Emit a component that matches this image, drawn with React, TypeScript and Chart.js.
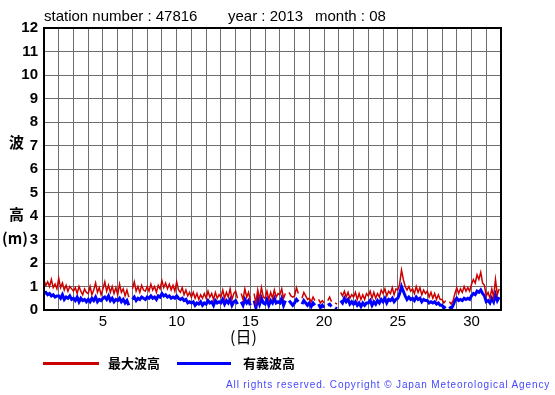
import React, { useEffect, useRef } from "react";
import { Chart, registerables } from "chart.js";

Chart.register(...registerables);

const stationNumber = "47816";
const yearLabel = "2013";
const monthLabel = "08";
const samplesPerDay = 8;
const yTicks = [0, 1, 2, 3, 4, 5, 6, 7, 8, 9, 10, 11, 12];
const xLabelDays = [5, 10, 15, 20, 25, 30];

// maximum wave height (m), 3-hourly, days 1..31
const maxWave: (number | null)[] = [
  1.25, 1.05, 1.2, 1.0, 1.3, 0.95, 1.1, 0.9,
  1.35, 0.95, 1.15, 0.85, 1.05, 0.8, 1.0, 0.9,
  0.8, 0.95, 0.7, 1.0, 0.8, 0.65, 0.9, 0.75,
  0.7, 1.0, 0.65, 0.85, 1.15, 0.75, 0.95, 0.65,
  0.9, 1.2, 0.8, 1.05, 0.75, 1.0, 0.7, 0.95,
  0.65, 1.1, 0.75, 0.9, 0.6, 0.85, 0.55, null,
  0.9, 1.2, 0.8, 1.0, 0.75, 1.05, 0.85, 0.8,
  1.0, 0.8, 1.1, 0.85, 1.0, 0.75, 1.05, 0.9,
  1.25, 0.95, 1.15, 0.9, 1.1, 0.85, 1.05, 0.8,
  1.2, 0.85, 0.75, 0.95, 0.65, 0.85, 0.6, 0.75,
  0.55, 0.75, 0.5, 0.7, 0.45, 0.65, 0.5, 0.7,
  0.5, 0.8, 0.55, 0.7, 0.45, 0.75, 0.5, 0.65,
  0.55, 0.85, 0.5, 0.75, 0.55, 0.9, 0.45, 0.7,
  0.8, 0.5, null, 0.7, 0.45, 0.9, 0.55, 0.75,
  0.4, null, 0.7, 0.3, 0.85, 0.45, 0.95, 0.55,
  0.5, 0.8, 0.45, 0.75, 0.5, 0.85, 0.55, 0.7,
  0.65, 0.9, 0.5, 0.7, null, 0.75, 0.6, 0.55,
  0.6, 0.95, 0.7, null, 0.5, 0.75, 0.6, 0.45,
  0.5, 0.35, 0.55, 0.4, null, 0.45, 0.3, 0.4,
  0.3, null, 0.4, 0.55, 0.35, null, 0.3, 0.25,
  null, 0.75, 0.6, 0.8, 0.55, 0.75, 0.5, 0.65,
  0.55, 0.75, 0.45, 0.7, 0.45, 0.65, 0.45, 0.7,
  0.6, 0.8, 0.5, 0.75, 0.5, 0.7, 0.55, 0.85,
  0.7, 0.9, 0.6, 0.8, 0.7, 0.95, 0.65, 0.9,
  0.85, 1.1, 1.7, 1.3, 1.0, 0.85, 1.0, 0.8,
  0.9, 0.7, 1.0, 0.75, 0.95, 0.65, 0.85, 0.7,
  0.8, 0.55, 0.75, 0.5, 0.7, 0.45, 0.65, 0.45,
  0.45, 0.3, 0.4, null, 0.35, 0.25, 0.4, 0.7,
  0.95, 0.7, 0.9, 0.75, 1.0, 0.8, 0.95, 0.8,
  1.1, 1.3, 1.15, 1.5, 1.3, 1.6, 1.15, 1.05,
  0.6, 0.75, 0.5, 0.9, 0.55, 1.3, 0.65, 0.9,
];

// significant wave height (m), 3-hourly, days 1..31
const sigWave: (number | null)[] = [
  0.7, 0.75, 0.65, 0.7, 0.6, 0.65, 0.55, 0.6,
  0.6, 0.5, 0.65, 0.45, 0.55, 0.5, 0.6, 0.45,
  0.5, 0.4, 0.55, 0.35, 0.5, 0.4, 0.45, 0.35,
  0.45, 0.35, 0.5, 0.4, 0.55, 0.35, 0.45, 0.4,
  0.5, 0.55, 0.45, 0.6, 0.4, 0.5, 0.35, 0.45,
  0.4, 0.5, 0.35, 0.45, 0.3, 0.4, 0.2, null,
  0.45, 0.55, 0.4, 0.5, 0.45, 0.55, 0.5, 0.45,
  0.55, 0.5, 0.6, 0.5, 0.55, 0.45, 0.6, 0.55,
  0.7, 0.6, 0.65, 0.55, 0.6, 0.5, 0.55, 0.5,
  0.6, 0.5, 0.45, 0.5, 0.4, 0.45, 0.3, 0.35,
  0.3, 0.35, 0.2, 0.3, 0.25, 0.35, 0.2, 0.3,
  0.25, 0.4, 0.3, 0.35, 0.2, 0.4, 0.3, 0.35,
  0.3, 0.45, 0.25, 0.4, 0.3, 0.45, 0.2, 0.35,
  0.4, 0.25, null, 0.35, 0.2, 0.45, 0.3, 0.4,
  0.2, null, 0.4, 0.1, 0.5, 0.25, 0.5, 0.3,
  0.25, 0.45, 0.2, 0.4, 0.3, 0.5, 0.3, 0.35,
  0.3, 0.5, 0.2, 0.4, null, 0.4, 0.3, 0.2,
  0.3, 0.45, 0.35, null, 0.25, 0.4, 0.3, 0.2,
  0.3, 0.15, 0.3, 0.2, null, 0.25, 0.1, 0.2,
  0.1, null, 0.2, 0.25, 0.15, null, 0.1, 0.05,
  null, 0.4, 0.3, 0.5, 0.35, 0.45, 0.25, 0.35,
  0.25, 0.35, 0.2, 0.3, 0.15, 0.3, 0.2, 0.3,
  0.3, 0.4, 0.2, 0.35, 0.25, 0.4, 0.3, 0.45,
  0.35, 0.5, 0.3, 0.45, 0.4, 0.5, 0.35, 0.45,
  0.5, 0.7, 1.0, 0.8, 0.6, 0.45, 0.55, 0.45,
  0.5, 0.4, 0.55, 0.45, 0.5, 0.35, 0.45, 0.4,
  0.4, 0.3, 0.35, 0.3, 0.35, 0.25, 0.3, 0.2,
  0.2, 0.1, 0.15, null, 0.15, 0.05, 0.2, 0.4,
  0.5, 0.4, 0.45, 0.4, 0.5, 0.45, 0.5, 0.45,
  0.6, 0.7, 0.65, 0.8, 0.75, 0.85, 0.7, 0.6,
  0.35, 0.4, 0.3, 0.5, 0.35, 0.65, 0.4, 0.55,
];

const RED = "#cc0000";
const BLUE = "#0000ff";

const toPoints = (arr: (number | null)[]) =>
  arr.map((v, i) => ({ x: 1 + i / samplesPerDay, y: v }));

const frame = {
  id: "frame",
  afterDatasetsDraw(chart: any) {
    const { ctx, chartArea: a } = chart;
    ctx.save();
    ctx.strokeStyle = "#000";
    ctx.lineWidth = 2;
    ctx.strokeRect(a.left, a.top, a.right - a.left, a.bottom - a.top);
    ctx.restore();
  },
};

const abs = (s: React.CSSProperties): React.CSSProperties => ({
  position: "absolute",
  whiteSpace: "pre",
  lineHeight: 1,
  ...s,
});

export default function App() {
  const ref = useRef<HTMLCanvasElement>(null);
  useEffect(() => {
    const chart = new Chart(ref.current!, {
      type: "line",
      data: {
        datasets: [
          {
            label: "最大波高",
            data: toPoints(maxWave) as any,
            borderColor: RED,
            borderWidth: 1.5,
            pointRadius: 0,
            tension: 0,
            spanGaps: false,
          },
          {
            label: "有義波高",
            data: toPoints(sigWave) as any,
            borderColor: BLUE,
            borderWidth: 3,
            pointRadius: 0,
            tension: 0,
            spanGaps: false,
          },
        ],
      },
      options: {
        animation: false,
        responsive: false,
        events: [],
        layout: { padding: { left: 0, right: 54, top: 28, bottom: 0 } },
        plugins: { legend: { display: false }, tooltip: { enabled: false } },
        scales: {
          x: {
            type: "linear",
            min: 1,
            max: 32,
            afterFit: (s: any) => {
              s.height = 85;
            },
            afterBuildTicks: (s: any) => {
              const t = [];
              for (let d = 1; d <= 32; d++) t.push({ value: d });
              s.ticks = t;
            },
            ticks: {
              autoSkip: false,
              maxRotation: 0,
              padding: 3,
              color: "#000",
              font: { family: "Liberation Sans", size: 15 },
              callback: (v: any) => (xLabelDays.includes(Number(v)) ? String(v) : ""),
            },
            grid: { color: "#6e6e6e", lineWidth: 1, drawTicks: false },
            border: { color: "#000", width: 2 },
          },
          y: {
            min: 0,
            max: 12,
            afterFit: (s: any) => {
              s.width = 44;
            },
            afterBuildTicks: (s: any) => {
              s.ticks = yTicks.map((v) => ({ value: v }));
            },
            ticks: {
              padding: 6,
              color: "#000",
              font: { family: "Liberation Sans", size: 15, weight: "bold" },
            },
            grid: { color: "#6e6e6e", lineWidth: 1, drawTicks: false },
            border: { color: "#000", width: 2 },
          },
        },
      },
      plugins: [frame],
    });
    return () => chart.destroy();
  }, []);

  const cjk = '"Noto Sans CJK JP", "Noto Sans CJK SC", sans-serif';
  const sans = '"Liberation Sans", Arial, sans-serif';

  return (
    <div
      style={{
        position: "fixed",
        left: 0,
        top: 0,
        width: 555,
        height: 395,
        background: "#fff",
        overflow: "hidden",
      }}
    >
      <canvas ref={ref} width={555} height={395} style={{ position: "absolute", left: 0, top: 0 }} />
      <div style={abs({ left: 44, top: 8, fontFamily: sans, fontSize: 15 })}>
        {"station number : " + stationNumber}
      </div>
      <div style={abs({ left: 228, top: 8, fontFamily: sans, fontSize: 15 })}>
        {"year : " + yearLabel}
      </div>
      <div style={abs({ left: 315, top: 8, fontFamily: sans, fontSize: 15 })}>
        {"month : " + monthLabel}
      </div>
      <div style={abs({ left: 9, top: 134, fontFamily: cjk, fontSize: 15, fontWeight: "bold" })}>波</div>
      <div style={abs({ left: 9, top: 206, fontFamily: cjk, fontSize: 15, fontWeight: "bold" })}>高</div>
      <div style={abs({ left: 2, top: 230, fontFamily: cjk, fontSize: 15, fontWeight: "bold" })}>(m)</div>
      <div style={abs({ left: 230, top: 328, fontFamily: cjk, fontSize: 16 })}>(日)</div>
      <div style={abs({ left: 43, top: 362, width: 56, height: 3, background: RED })} />
      <div style={abs({ left: 108, top: 356, fontFamily: cjk, fontSize: 13, fontWeight: "bold" })}>最大波高</div>
      <div style={abs({ left: 177, top: 362, width: 54, height: 3, background: BLUE })} />
      <div style={abs({ left: 243, top: 356, fontFamily: cjk, fontSize: 13, fontWeight: "bold" })}>有義波高</div>
      <div
        style={abs({
          left: 226,
          top: 380,
          fontFamily: sans,
          fontSize: 10,
          letterSpacing: 0.87,
          color: "#4646ff",
        })}
      >
        All rights reserved. Copyright © Japan Meteorological Agency
      </div>
    </div>
  );
}
